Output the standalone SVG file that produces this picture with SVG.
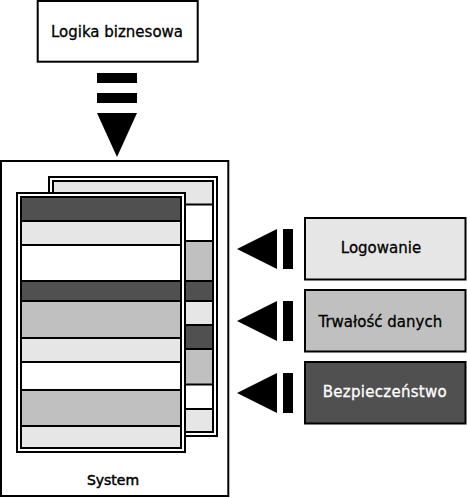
<svg xmlns="http://www.w3.org/2000/svg" width="467" height="498" viewBox="0 0 467 498">
<style>
.box{stroke:#000;stroke-width:2}
.ln{stroke:#000;stroke-width:2;fill:none}
.lt{fill:#e6e6e6}
.md{fill:#c0c0c0}
.dk{fill:#505050}
.wh{fill:#fff}
.t{font-family:"DejaVu Sans","Bitstream Vera Sans",sans-serif;font-size:15px;fill:#000;stroke:#000;stroke-width:0.3}
.tw{fill:#fff;stroke:#fff}
.arr{fill:#000}
</style>
<rect width="467" height="498" fill="#fff"/>

<g id="node-logika">
<rect class="box wh" x="37.7" y="1" width="160" height="60.7"/>
<text class="t" x="117" y="37.3" text-anchor="middle">Logika biznesowa</text>
</g>

<g id="node-system">
<rect class="box wh" x="1" y="161" width="227.3" height="335"/>
<g id="page-back">
<rect class="box wh" x="49" y="177" width="168" height="259"/>
<rect class="lt" x="53" y="181" width="160" height="23.5"/>
<rect class="wh" x="53" y="204.5" width="160" height="36.5"/>
<rect class="md" x="53" y="241" width="160" height="40"/>
<rect class="dk" x="53" y="281" width="160" height="20"/>
<rect class="lt" x="53" y="301" width="160" height="24"/>
<rect class="dk" x="53" y="325" width="160" height="24"/>
<rect class="md" x="53" y="349" width="160" height="35.5"/>
<rect class="wh" x="53" y="384.5" width="160" height="24.5"/>
<rect class="lt" x="53" y="409" width="160" height="23"/>
<path class="ln" d="M53 204.5H213M53 241H213M53 281H213M53 301H213M53 325H213M53 349H213M53 384.5H213M53 409H213"/>
<rect class="ln" x="53" y="181" width="160" height="251"/>
</g>
<g id="page-front">
<rect class="box wh" x="17" y="193" width="168" height="259"/>
<rect class="dk" x="21" y="197" width="160" height="24"/>
<rect class="lt" x="21" y="221" width="160" height="24"/>
<rect class="wh" x="21" y="245" width="160" height="36"/>
<rect class="dk" x="21" y="281" width="160" height="20"/>
<rect class="md" x="21" y="301" width="160" height="37"/>
<rect class="lt" x="21" y="338" width="160" height="24"/>
<rect class="wh" x="21" y="362" width="160" height="28"/>
<rect class="md" x="21" y="390" width="160" height="36"/>
<rect class="lt" x="21" y="426" width="160" height="22"/>
<path class="ln" d="M21 221H181M21 245H181M21 281H181M21 301H181M21 338H181M21 362H181M21 390H181M21 426H181"/>
<rect class="ln" x="21" y="197" width="160" height="251"/>
</g>
<text x="113" y="485" text-anchor="middle" style="font-family:'DejaVu Sans',sans-serif;font-size:14px;fill:#000;stroke:#000;stroke-width:0.5">System</text>
</g>

<g id="node-logowanie">
<rect class="box lt" x="305" y="218" width="160.5" height="61.5"/>
<text class="t" x="381" y="253.3" text-anchor="middle">Logowanie</text>
</g>

<g id="node-trwalosc">
<rect class="box md" x="305" y="290" width="160.5" height="61.5"/>
<text class="t" x="380.3" y="327.3" text-anchor="middle">Trwałość danych</text>
</g>

<g id="node-bezpieczenstwo">
<rect class="box dk" x="305" y="362" width="160.5" height="61.5"/>
<text class="t tw" x="384.7" y="397.3" text-anchor="middle" textLength="124" lengthAdjust="spacing">Bezpieczeństwo</text>
</g>

<g id="connectors">
<g id="arrow-logika-system">
<rect class="arr" x="97" y="73" width="40" height="10"/>
<rect class="arr" x="97" y="93" width="40" height="10"/>
<polygon class="arr" points="97,113 137,113 117,157"/>
</g>
<g id="arrow-logowanie-system">
<rect class="arr" x="283" y="229" width="10" height="40"/>
<polygon class="arr" points="277,229 277,269 237,249"/>
</g>
<g id="arrow-trwalosc-system">
<rect class="arr" x="283" y="301" width="10" height="40"/>
<polygon class="arr" points="277,301 277,341 237,321"/>
</g>
<g id="arrow-bezpieczenstwo-system">
<rect class="arr" x="283" y="373" width="10" height="40"/>
<polygon class="arr" points="277,373 277,413 237,393"/>
</g>
</g>
</svg>
